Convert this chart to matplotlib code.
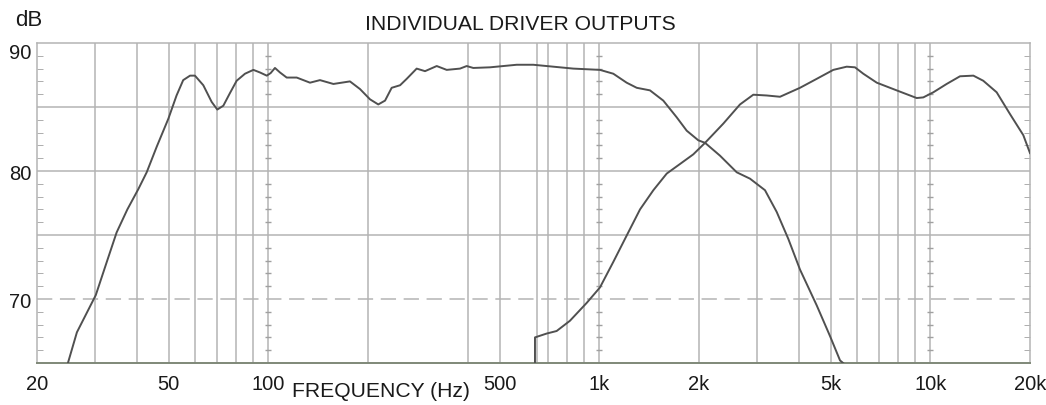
import numpy as np
import matplotlib
matplotlib.use("Agg")
import matplotlib.pyplot as plt

plt.rcParams['font.family'] = ['Liberation Sans', 'DejaVu Sans']

# woofer response (Hz, dB)
woofer_freq = [24.8, 26.4, 30.1, 32.5, 34.8, 37.5, 40.5, 42.9, 46.0, 49.9, 52.8, 55.3, 58.0,
               60.0, 63.6, 67.4, 70.1, 73.1, 76.6, 80.2, 85.0, 90.1, 94.3, 98.9, 101.6,
               104.7, 108.4, 113.6, 121.8, 133.6, 143.2, 157.2, 176.4, 189.2, 202.8, 214.8,
               225.2, 235.8, 250, 261.8, 280.6, 297.4, 322.6, 345.8, 379.3, 397.4, 416,
               467.4, 562.6, 631.6, 725.8, 834, 1004, 1102, 1209, 1297, 1422, 1560, 1712,
               1836, 1990, 2086, 2314, 2600, 2852, 3165, 3434, 3722, 4038, 4536, 4976,
               5335, 5450]
woofer_db = [65.0, 67.4, 70.3, 72.9, 75.2, 77.0, 78.6, 79.9, 81.9, 84.1, 85.9, 87.1, 87.45,
             87.45, 86.7, 85.4, 84.8, 85.1, 86.1, 87.05, 87.6, 87.9, 87.7, 87.45, 87.65,
             88.05, 87.7, 87.3, 87.3, 86.9, 87.1, 86.8, 87.0, 86.4, 85.6, 85.2,
             85.5, 86.5, 86.7, 87.2, 88.0, 87.8, 88.2, 87.9, 88.0, 88.2, 88.05,
             88.1, 88.3, 88.3, 88.15, 88.0, 87.9, 87.6, 86.9, 86.5, 86.3, 85.5, 84.2,
             83.15, 82.4, 82.2, 81.2, 79.9, 79.4, 78.5, 76.8, 74.7, 72.3, 69.5, 67.1,
             65.2, 65.0]

# tweeter response (Hz, dB)
tweeter_freq = [639, 639, 693, 743, 815, 916, 1004, 1102, 1209, 1327, 1456, 1598, 1753,
                1922, 2086, 2368, 2660, 2918, 3204, 3514, 4038, 4536, 5090, 5588, 5920,
                6272, 6888, 7552, 8284, 9094, 9520, 10210, 11200, 12290, 13490, 14450,
                15860, 17400, 19090, 20000]
tweeter_db = [65.0, 67.0, 67.3, 67.5, 68.3, 69.7, 70.9, 72.9, 74.95, 77.0, 78.5, 79.8, 80.55,
              81.3, 82.2, 83.7, 85.2, 85.96, 85.9, 85.8, 86.5, 87.2, 87.9, 88.15, 88.1,
              87.6, 86.9, 86.5, 86.1, 85.7, 85.75, 86.15, 86.8, 87.4, 87.45, 87.05,
              86.15, 84.45, 82.8, 81.4]

xtick_vals = [20, 50, 100, 500, 1000, 2000, 5000, 10000, 20000]
xtick_labels = ['20', '50', '100', '500', '1k', '2k', '5k', '10k', '20k']
ytick_vals = [70, 80, 90]
grid_freqs = [30, 40, 50, 60, 70, 80, 90, 100, 200, 400, 500, 650, 700, 800, 900,
              1000, 2000, 3000, 4000, 5000, 6000, 7000, 8000, 9000, 10000]
tick_lines = [100, 1000, 10000]

grid_c = '#b4b4b4'
line_c = '#505050'
text_c = '#1a1a1a'

fig = plt.figure(figsize=(10.46, 4.06), dpi=100)
ax = fig.add_axes([37 / 1046, 1 - 364 / 406, 993 / 1046, 320 / 406])
ax.set_xscale('log')
ax.set_xlim(20, 20000)
ax.set_ylim(65, 90)

for f in grid_freqs:
    ax.axvline(f, color=grid_c, lw=1.1, zorder=1)
for y in [75, 80, 85]:
    ax.axhline(y, color=grid_c, lw=1.1, zorder=1)
ax.axhline(70, color=grid_c, lw=1.1, ls=(0, (10, 5)), zorder=1)

# small dB ticks crossing some vertical lines
minor_db = [d for d in range(66, 90) if d % 5 != 0]
for f in tick_lines:
    ax.plot([f] * len(minor_db), minor_db, ls='none', marker='_', ms=5,
            mew=1.0, color='#a0a0a0', zorder=1)

ax.plot(woofer_freq, woofer_db, color=line_c, lw=1.4, zorder=3)
ax.plot(tweeter_freq, tweeter_db, color=line_c, lw=1.4, zorder=3)

for s in ['top', 'left', 'right']:
    ax.spines[s].set_color(grid_c)
    ax.spines[s].set_linewidth(1.1)
ax.spines['bottom'].set_color('#7f8878')
ax.spines['bottom'].set_linewidth(1.4)

ax.set_xticks(xtick_vals)
ax.set_xticklabels(xtick_labels)
ax.xaxis.set_minor_locator(matplotlib.ticker.NullLocator())
ax.set_yticks(ytick_vals)
ax.set_yticks(minor_db, minor=True)
ax.tick_params(axis='x', length=0, pad=8, labelsize=14.5, labelcolor=text_c)
ax.tick_params(axis='y', which='major', length=0, pad=4, labelsize=14.5, labelcolor=text_c)
ax.tick_params(axis='y', which='minor', left=True, right=True, direction='in',
               length=4, color='#a0a0a0')
ax.get_yticklabels()[-1].set_verticalalignment('top')

fig.text(520 / 1046, 1 - 24 / 406, 'INDIVIDUAL DRIVER OUTPUTS', ha='center', va='center',
         fontsize=15.2, color=text_c)
fig.text(29 / 1046, 1 - 20 / 406, 'dB', ha='center', va='center', fontsize=16, color=text_c)
fig.text(381 / 1046, 1 - 392 / 406, 'FREQUENCY (Hz)', ha='center', va='center',
         fontsize=15.2, color=text_c)

fig.savefig('out.png', dpi=100, facecolor='white')
